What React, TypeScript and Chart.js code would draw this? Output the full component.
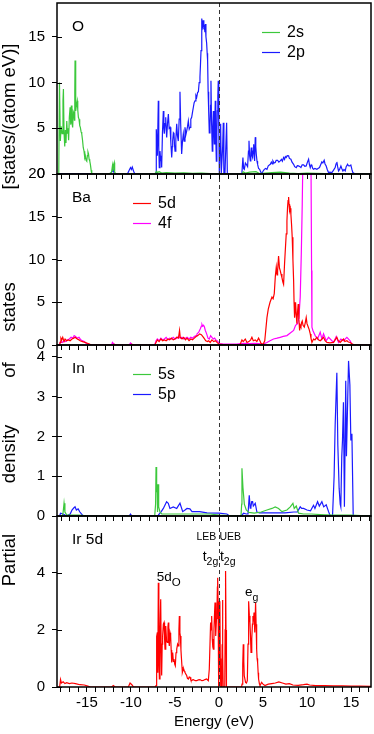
import React, { useEffect, useRef } from 'react';
import { Chart, registerables } from 'chart.js';

Chart.register(...registerables);

type Pt = [number, number];

const FONT = "'Liberation Sans', Arial, Helvetica, sans-serif";

// ---------- axes ----------
const energyRange: number[] = [-18.4, 17.27];
const energyTickStep = 1;
const energyLabelEvery = 5;
const energyTitle = 'Energy (eV)';

const panelIds: string[] = ['yO', 'yBa', 'yIn', 'yIr'];
const panelNames: string[] = ['O', 'Ba', 'In', 'Ir 5d'];
const panelMax: number[] = [18.7, 20, 4.3, 5.99];
const panelStep: number[] = [5, 5, 1, 2];

const yTitleWords: string[] = ['Partial', 'density', 'of', 'states', '[states/(atom eV)]'];

// ---------- series: [energy (eV), DOS] ----------
const oxygen2s: Pt[] = [
  [-18.4, 0], [-18.2, 0], [-18.12, 10.0], [-18.02, 3.6], [-17.93, 5.2], [-17.82, 4.4], [-17.72, 8.0], [-17.67, 9.3],
  [-17.6, 4.5], [-17.52, 3.0], [-17.45, 4.8], [-17.38, 3.4], [-17.29, 5.8], [-17.22, 4.4], [-17.15, 5.0], [-17.08, 3.7],
  [-17.0, 6.2], [-16.91, 7.3], [-16.84, 5.4], [-16.77, 7.5], [-16.7, 5.6], [-16.62, 5.1], [-16.55, 6.8], [-16.48, 6.6],
  [-16.42, 5.9], [-16.38, 9.0], [-16.35, 12.4], [-16.3, 8.0], [-16.25, 6.9], [-16.18, 7.6], [-16.1, 8.0], [-16.04, 7.0],
  [-15.97, 6.2], [-15.9, 6.0], [-15.82, 5.3], [-15.75, 5.1], [-15.66, 4.6], [-15.59, 4.4], [-15.5, 3.7], [-15.42, 2.9],
  [-15.33, 2.5], [-15.25, 1.8], [-15.18, 2.0], [-15.1, 1.5], [-15.02, 1.4], [-14.95, 2.0], [-14.88, 2.4], [-14.82, 2.2],
  [-14.75, 1.6], [-14.68, 1.43], [-14.6, 1.0], [-14.52, 0.4], [-14.45, 0], [-12.5, 0], [-12.2, 0.2], [-12.1, 0.9],
  [-12.05, 0.3], [-11.98, 1.0], [-11.9, 1.25], [-11.85, 0.2], [-11.7, 0], [-7.3, 0], [-7.1, 0.3], [-7.0, 0.15],
  [-6.8, 0.25], [-6.5, 0.1], [-6, 0.15], [-5, 0.1], [-4, 0.12], [-3, 0.08], [-2, 0.1], [-1, 0.05], [0, 0],
  [2.6, 0], [2.75, 0.25], [3.0, 0.1], [3.5, 0.2], [4.2, 0.25], [4.6, 0.05], [6, 0.15], [7, 0.2], [8, 0.1], [9, 0.05],
  [10, 0.1], [12, 0.05], [14, 0.05], [15.5, 0], [17.3, 0],
];

const oxygen2p: Pt[] = [
  [-18.4, 0], [-18, 0.05], [-16, 0.05], [-15, 0.05], [-14.5, 0], [-12.3, 0], [-12.15, 0.3], [-12.05, 0.6], [-11.95, 0.2],
  [-11.85, 0], [-10.4, 0], [-10.2, 0.4], [-10.05, 0.7], [-9.95, 0.5], [-9.85, 0.75], [-9.7, 0.3], [-9.55, 0], [-7.2, 0],
  [-7.15, 0], [-7.12, 4.9], [-7.0, 2.0], [-6.89, 8.0], [-6.84, 3.0], [-6.78, 0.7], [-6.7, 2.5], [-6.62, 1.4], [-6.56, 2.0],
  [-6.51, 0.7], [-6.42, 4.5], [-6.32, 6.9], [-6.26, 5.0], [-6.21, 4.4], [-6.13, 5.5], [-6.05, 6.2], [-5.99, 4.8], [-5.94, 4.0],
  [-5.85, 5.5], [-5.75, 6.56], [-5.66, 5.0], [-5.56, 5.1], [-5.47, 3.5], [-5.37, 1.8], [-5.3, 3.0], [-5.26, 3.6], [-5.18, 4.5],
  [-5.11, 4.4], [-5.05, 3.2], [-4.99, 2.5], [-4.9, 3.8], [-4.8, 5.5], [-4.72, 4.2], [-4.62, 3.6], [-4.52, 6.0], [-4.43, 9.0],
  [-4.35, 5.5], [-4.24, 2.2], [-4.15, 3.5], [-4.05, 4.4], [-3.96, 3.6], [-3.86, 5.1], [-3.76, 4.3], [-3.67, 4.7], [-3.57, 5.2],
  [-3.48, 5.8], [-3.38, 4.9], [-3.29, 5.1], [-3.2, 6.0], [-3.1, 6.2], [-3.0, 6.8], [-2.91, 7.3], [-2.82, 7.8], [-2.72, 8.0],
  [-2.62, 8.6], [-2.53, 8.4], [-2.43, 8.9], [-2.34, 9.0], [-2.25, 10.0], [-2.16, 10.6], [-2.1, 12.0], [-2.04, 13.5],
  [-1.98, 15.5], [-1.93, 17.0], [-1.86, 16.2], [-1.78, 16.8], [-1.72, 16.0], [-1.66, 16.1], [-1.6, 15.5], [-1.55, 16.4],
  [-1.48, 15.0], [-1.4, 14.3], [-1.34, 13.2], [-1.29, 12.4], [-1.23, 9.0], [-1.17, 6.9], [-1.1, 4.5], [-1.02, 5.1],
  [-0.96, 7.5], [-0.91, 10.2], [-0.85, 6.0], [-0.76, 2.5], [-0.7, 5.0], [-0.64, 6.9], [-0.58, 4.5], [-0.53, 3.3],
  [-0.47, 5.5], [-0.42, 8.0], [-0.36, 4.0], [-0.3, 1.4], [-0.24, 4.5], [-0.19, 6.9], [-0.13, 8.5], [-0.08, 10.2],
  [-0.02, 5.0], [0.04, 0], [0.12, 3.0], [0.19, 5.5], [0.26, 0], [0.34, 0], [0.42, 3.0], [0.49, 5.6], [0.56, 0],
  [0.68, 0], [0.78, 3.0], [0.87, 5.6], [0.95, 0], [2.55, 0],
  [2.61, 0.15], [2.72, 1.8], [2.8, 0.6], [2.88, 0.51], [3.0, 1.2], [3.1, 1.06], [3.25, 0.8], [3.35, 2.5], [3.41, 3.63],
  [3.48, 2.0], [3.56, 1.43], [3.62, 2.3], [3.67, 2.9], [3.75, 2.0], [3.82, 1.8], [3.88, 2.5], [3.94, 3.26], [4.0, 2.2],
  [4.05, 1.43], [4.12, 4.03], [4.18, 3.0], [4.24, 2.16], [4.32, 1.4], [4.39, 1.06], [4.5, 0.6], [4.62, 0.51], [4.75, 0.2],
  [4.88, 0.04], [5.0, 0.3], [5.15, 0.51], [5.3, 0.6], [5.45, 0.51], [5.6, 0.9], [5.83, 1.06], [5.95, 1.3], [6.05, 1.1],
  [6.13, 1.43], [6.25, 1.2], [6.39, 1.25], [6.5, 1.5], [6.66, 1.5], [6.8, 1.3], [6.96, 1.43], [7.1, 1.6], [7.2, 1.4],
  [7.34, 1.8], [7.45, 1.6], [7.54, 1.9], [7.64, 1.8], [7.75, 2.0], [7.91, 1.98], [8.0, 1.7], [8.17, 1.61], [8.3, 1.3],
  [8.48, 1.06], [8.6, 0.8], [8.78, 0.7], [8.9, 0.9], [9.04, 0.88], [9.2, 0.8], [9.31, 0.7], [9.45, 1.0], [9.61, 0.99],
  [9.75, 0.85], [9.91, 0.88], [10.05, 1.3], [10.18, 1.61], [10.28, 1.0], [10.37, 0.7], [10.47, 1.0], [10.56, 0.88],
  [10.65, 0.6], [10.74, 0.51], [10.9, 0.6], [11.12, 0.51], [11.25, 0.6], [11.42, 0.7], [11.55, 1.0], [11.69, 1.32],
  [11.8, 1.2], [11.95, 1.5], [12.05, 1.1], [12.18, 0.88], [12.3, 0.5], [12.45, 0.15], [12.6, 0.2], [12.83, 0.15],
  [13.0, 0.4], [13.2, 0.7], [13.3, 1.1], [13.39, 1.32], [13.48, 0.8], [13.58, 0.33], [13.7, 0.5], [13.85, 0.88],
  [13.95, 0.6], [14.08, 0.33], [14.2, 0.5], [14.34, 0.33], [14.45, 0.8], [14.61, 1.06], [14.7, 0.9], [14.84, 0.88],
  [14.98, 0.99], [15.1, 0.5], [15.21, 0.15], [15.47, 0], [17.3, 0],
];

const barium5d: Pt[] = [
  [-18.4, 0], [-18.1, 0], [-18.05, 0.3], [-17.95, 0.8], [-17.86, 0.6], [-17.75, 0.9], [-17.6, 0.4], [-17.48, 0.7],
  [-17.3, 0.5], [-17.1, 0.6], [-16.91, 0.5], [-16.7, 0.7], [-16.5, 0.8], [-16.35, 0.9], [-16.1, 0.7], [-15.9, 0.6],
  [-15.78, 0.5], [-15.5, 0.4], [-15.21, 0.3], [-14.95, 0.2], [-14.72, 0.1], [-14.5, 0], [-12, 0], [-11.9, 0.1],
  [-11.7, 0], [-10, 0], [-9.9, 0.1], [-9.7, 0], [-7.3, 0], [-7.15, 0.3], [-7.0, 0.6], [-6.8, 0.4], [-6.6, 0.7],
  [-6.4, 0.5], [-6.2, 0.6], [-6.0, 0.5], [-5.8, 0.7], [-5.6, 0.6], [-5.4, 0.8], [-5.2, 0.6], [-5.0, 0.7], [-4.8, 0.9],
  [-4.6, 0.8], [-4.48, 1.7], [-4.4, 0.9], [-4.2, 0.7], [-4.0, 0.9], [-3.8, 0.6], [-3.63, 0.8], [-3.4, 0.5], [-3.2, 0.7],
  [-3.0, 0.6], [-2.8, 0.8], [-2.6, 1.0], [-2.4, 1.1], [-2.2, 1.3], [-2.0, 1.2], [-1.85, 1.0], [-1.7, 0.8], [-1.5, 0.5],
  [-1.3, 0.4], [-1.17, 0.5], [-1.0, 0.3], [-0.8, 0.6], [-0.6, 0.4], [-0.4, 0.5], [-0.22, 0.3], [0, 0.1], [0.5, 0.05],
  [1.5, 0.05], [2.4, 0.05], [2.61, 0.6], [2.75, 0.4], [2.99, 0.7], [3.18, 0.3], [3.4, 0.4], [3.6, 0.6], [3.74, 0.9],
  [3.9, 0.5], [4.12, 0.6], [4.3, 0.4], [4.5, 0.8], [4.65, 0.5], [4.77, 0.2], [5.0, 0.05], [5.2, 0.5], [5.45, 3.2],
  [5.6, 4.2], [5.8, 5.0], [6.02, 5.6], [6.15, 5.4], [6.28, 6.0], [6.4, 8.0], [6.51, 9.1], [6.6, 8.2], [6.66, 8.7],
  [6.77, 10.4], [6.87, 9.0], [6.96, 8.7], [7.05, 8.3], [7.15, 7.9], [7.25, 7.4], [7.34, 7.1], [7.45, 9.5], [7.53, 11.0],
  [7.64, 13.0], [7.72, 14.5], [7.79, 16.1], [7.85, 16.9], [7.91, 17.3], [7.96, 16.5], [8.02, 15.7], [8.1, 16.0],
  [8.17, 15.3], [8.25, 14.0], [8.32, 12.6], [8.4, 10.0], [8.48, 7.5], [8.53, 5.0], [8.59, 3.2], [8.65, 4.0], [8.7, 5.0],
  [8.78, 3.5], [8.85, 2.5], [8.92, 3.8], [9.0, 4.8], [9.08, 3.0], [9.16, 1.7], [9.23, 2.3], [9.31, 2.1], [9.38, 2.6],
  [9.46, 2.8], [9.55, 2.3], [9.69, 2.1], [9.8, 2.6], [9.91, 3.2], [10.0, 2.5], [10.14, 2.1], [10.25, 1.8], [10.37, 1.3],
  [10.45, 0.8], [10.56, 0.3], [10.65, 0.5], [10.74, 0.7], [10.9, 0.6], [11.12, 0.9], [11.3, 0.6], [11.5, 0.5], [11.7, 0.7],
  [11.88, 0.9], [12.05, 0.5], [12.26, 0.3], [12.6, 0.25], [13.01, 0.3], [13.2, 0.6], [13.39, 0.9], [13.55, 0.5],
  [13.77, 0.3], [13.95, 0.5], [14.15, 0.7], [14.3, 0.4], [14.53, 0.5], [14.7, 0.35], [14.9, 0.3], [15.1, 0.15],
  [15.28, 0.05], [15.5, 0], [17.3, 0],
];

const barium4f: Pt[] = [
  [-18.4, 0], [-18.1, 0], [-18.0, 0.4], [-17.8, 0.3], [-17.6, 0.5], [-17.4, 0.4], [-17.2, 0.6], [-17.0, 0.7],
  [-16.8, 0.9], [-16.6, 0.8], [-16.45, 1.1], [-16.3, 1.0], [-16.1, 0.8], [-15.9, 0.9], [-15.7, 0.6], [-15.5, 0.5],
  [-15.3, 0.4], [-15.1, 0.2], [-14.8, 0.1], [-14.6, 0], [-12.2, 0], [-12.1, 0.3], [-12.0, 0.2], [-11.85, 0],
  [-10.2, 0], [-10.05, 0.25], [-9.9, 0.1], [-9.75, 0], [-7.3, 0], [-7.15, 0.5], [-7.0, 0.7], [-6.8, 0.5], [-6.6, 0.8],
  [-6.4, 0.6], [-6.2, 0.7], [-6.0, 0.9], [-5.8, 0.6], [-5.6, 0.8], [-5.4, 0.7], [-5.2, 0.9], [-5.0, 0.7], [-4.8, 0.8],
  [-4.6, 1.0], [-4.4, 0.8], [-4.2, 0.9], [-4.0, 0.7], [-3.8, 0.8], [-3.63, 0.9], [-3.4, 0.7], [-3.2, 0.9], [-3.0, 0.8],
  [-2.8, 1.0], [-2.6, 1.1], [-2.5, 1.3], [-2.3, 1.5], [-2.12, 1.9], [-2.0, 2.2], [-1.93, 2.4], [-1.85, 2.2], [-1.75, 2.3],
  [-1.65, 2.1], [-1.55, 1.7], [-1.4, 1.3], [-1.25, 0.8], [-1.1, 0.7], [-0.95, 1.1], [-0.8, 0.9], [-0.65, 0.7],
  [-0.5, 0.8], [-0.35, 0.6], [-0.22, 0.5], [-0.05, 0.3], [0.1, 0.15], [0.5, 0.1], [1.0, 0.1], [1.5, 0.1], [2.0, 0.1],
  [2.5, 0.15], [3.0, 0.2], [3.5, 0.15], [4.0, 0.2], [4.5, 0.15], [5.0, 0.1], [5.45, 0.3], [5.8, 0.5], [6.2, 0.7],
  [6.6, 0.8], [6.96, 0.9], [7.3, 1.0], [7.72, 1.1], [8.1, 1.4], [8.48, 1.7], [8.7, 2.3], [8.93, 2.5], [9.08, 3.2],
  [9.23, 5.6], [9.35, 10.6], [9.46, 16.5], [9.56, 24], [9.65, 30], [10.35, 30], [10.44, 24], [10.52, 8.7], [10.56, 2.1],
  [10.67, 1.7], [10.93, 1.1], [11.2, 0.7], [11.5, 1.5], [11.69, 0.7], [11.88, 1.3], [12.18, 0.5], [12.45, 0.9],
  [13.01, 0.3], [13.32, 1.0], [13.58, 0.3], [13.85, 0.7], [14.15, 0.5], [14.53, 0.9], [14.9, 0.5], [15.09, 0.1],
  [15.3, 0], [17.3, 0],
];

const indium5s: Pt[] = [
  [-18.4, 0], [-17.8, 0], [-17.7, 0.1], [-17.6, 0.32], [-17.5, 0.1], [-17.3, 0.03], [-16, 0.02], [-14.5, 0],
  [-7.3, 0], [-7.2, 0.3], [-7.15, 1.23], [-7.08, 0.6], [-7.03, 0.8], [-6.98, 0.1], [-6.92, 0.8], [-6.85, 0.23],
  [-6.7, 0.1], [-6.5, 0.05], [-5, 0.05], [-3, 0.05], [-1, 0.05], [0, 0.02], [2.5, 0], [2.58, 0.3], [2.61, 1.2],
  [2.72, 0.73], [2.88, 0.3], [3.1, 0.15], [3.4, 0.09], [4, 0.07], [4.8, 0.1], [5.45, 0.15], [6.02, 0.19], [6.39, 0.23],
  [6.77, 0.19], [7.15, 0.11], [7.72, 0.15], [8.1, 0.23], [8.4, 0.32], [8.55, 0.19], [8.78, 0.25], [9.04, 0.07],
  [9.6, 0.05], [10.5, 0.05], [12, 0.03], [13, 0.02], [15, 0.02], [17.3, 0],
];

const indium5p: Pt[] = [
  [-18.4, 0], [-18.1, 0], [-18.0, 0.07], [-17.7, 0.05], [-17.3, 0], [-16.9, 0.05], [-16.7, 0.15], [-16.5, 0.2],
  [-16.35, 0.23], [-16.2, 0.15], [-16.0, 0.18], [-15.8, 0.1], [-15.5, 0.02], [-15.3, 0], [-10.2, 0], [-10.05, 0.05],
  [-9.9, 0], [-7.2, 0], [-6.9, 0.02], [-6.6, 0.1], [-6.32, 0.19], [-5.95, 0.36], [-5.76, 0.32], [-5.57, 0.19],
  [-5.19, 0.23], [-4.8, 0.19], [-4.43, 0.32], [-4.12, 0.11], [-3.86, 0.15], [-3.63, 0.19], [-3.3, 0.18], [-3.06, 0.11],
  [-2.2, 0.11], [-1.36, 0.08], [0, 0.07], [0.9, 0.05], [1.2, 0], [2.5, 0], [2.8, 0.07], [3.1, 0.05], [3.3, 0.05],
  [3.44, 0.52], [3.55, 0.2], [3.63, 0.23], [3.72, 0.36], [3.82, 0.36], [3.9, 0.25], [4.0, 0.28], [4.12, 0.32],
  [4.31, 0.1], [4.6, 0.08], [5.5, 0.08], [6.5, 0.08], [7.5, 0.08], [8.5, 0.1], [8.9, 0.1], [9.23, 0.23], [9.4, 0.19],
  [9.61, 0.19], [10.0, 0.15], [10.4, 0.13], [10.74, 0.27], [10.9, 0.19], [11.2, 0.36], [11.4, 0.25], [11.69, 0.36],
  [11.9, 0.23], [12.18, 0.28], [12.45, 0.11], [12.64, 0], [12.9, 0], [13.08, 1.0], [13.2, 2.3], [13.39, 3.6],
  [13.5, 1.8], [13.65, 0.7], [13.77, 0.3], [13.84, 0.23], [13.95, 1.5], [14.03, 1.9], [14.14, 2.86], [14.25, 0.23],
  [14.4, 3.4], [14.48, 1.5], [14.63, 3.0], [14.72, 3.9], [14.87, 3.3], [14.98, 1.9], [15.1, 2.07], [15.25, 0], [17.3, 0],
];

const iridium5d: Pt[] = [
  [-18.4, 0], [-18.1, 0], [-18.0, 0.26], [-17.9, 0.14], [-17.7, 0.18], [-17.5, 0.12], [-17.3, 0.15], [-17.0, 0.12],
  [-16.7, 0.14], [-16.3, 0.12], [-15.8, 0.08], [-15.3, 0.07], [-14.9, 0.03], [-14.6, 0], [-12.2, 0], [-12.0, 0.05],
  [-11.8, 0], [-10.3, 0], [-10.1, 0.14], [-9.9, 0.08], [-9.7, 0], [-7.2, 0], [-7.15, 0.05], [-7.08, 1.77], [-7.0, 1.91],
  [-6.95, 0.5], [-6.89, 3.65], [-6.83, 1.0], [-6.77, 0.28], [-6.7, 2.0], [-6.62, 3.07], [-6.56, 1.2], [-6.51, 0.4],
  [-6.45, 1.5], [-6.4, 1.79], [-6.32, 2.2], [-6.24, 2.26], [-6.18, 1.7], [-6.13, 1.33], [-6.07, 2.0], [-6.02, 2.14],
  [-5.95, 1.6], [-5.86, 1.56], [-5.8, 2.1], [-5.75, 2.26], [-5.7, 1.6], [-5.64, 1.44], [-5.56, 1.9], [-5.49, 1.79],
  [-5.43, 1.3], [-5.37, 0.86], [-5.3, 1.1], [-5.26, 1.21], [-5.18, 0.9], [-5.11, 0.98], [-5.03, 0.8], [-4.96, 0.74],
  [-4.88, 1.2], [-4.8, 1.33], [-4.7, 1.5], [-4.62, 1.44], [-4.55, 2.0], [-4.5, 2.49], [-4.44, 1.9], [-4.39, 1.79],
  [-4.32, 1.3], [-4.28, 1.09], [-4.2, 0.7], [-4.16, 0.51], [-4.08, 0.6], [-4.01, 0.63], [-3.93, 0.55], [-3.86, 0.51],
  [-3.76, 0.45], [-3.67, 0.4], [-3.58, 0.3], [-3.48, 0.28], [-3.38, 0.35], [-3.29, 0.34], [-3.2, 0.25], [-3.1, 0.22],
  [-3.0, 0.25], [-2.91, 0.26], [-2.7, 0.22], [-2.53, 0.22], [-2.35, 0.25], [-2.16, 0.26], [-1.95, 0.22], [-1.78, 0.23],
  [-1.6, 0.26], [-1.4, 0.28], [-1.21, 0.22], [-1.1, 0.63], [-0.95, 2.26], [-0.89, 2.0], [-0.83, 2.49], [-0.76, 1.68],
  [-0.7, 1.4], [-0.64, 1.33], [-0.57, 2.02], [-0.5, 2.6], [-0.45, 2.96], [-0.4, 2.0], [-0.34, 1.79], [-0.28, 2.4],
  [-0.23, 2.61], [-0.18, 3.5], [-0.15, 3.83], [-0.1, 3.0], [-0.08, 2.49], [-0.03, 1.0], [0.0, 0], [0.05, 1.5],
  [0.1, 3.0], [0.15, 1.0], [0.2, 0], [0.32, 0], [0.36, 1.5], [0.4, 3.05], [0.44, 1.2], [0.48, 0], [0.66, 0],
  [0.7, 2.0], [0.75, 4.06], [0.8, 2.0], [0.85, 0], [2.57, 0], [2.62, 0.1], [2.68, 0.16], [2.72, 0.8], [2.76, 1.5],
  [2.82, 0.9], [2.87, 0.4], [3.02, 0.16], [3.12, 0.14], [3.22, 0.22], [3.3, 1.5], [3.37, 3.0], [3.45, 2.5], [3.52, 2.26],
  [3.58, 1.8], [3.64, 1.21], [3.7, 1.4], [3.75, 1.68], [3.8, 2.2], [3.86, 2.49], [3.92, 2.3], [3.98, 2.61], [4.04, 2.0],
  [4.09, 1.91], [4.16, 2.96], [4.22, 2.2], [4.28, 1.33], [4.33, 1.0], [4.39, 0.86], [4.45, 0.5], [4.5, 0.28], [4.6, 0.1],
  [4.66, 0.05], [4.84, 0.16], [5.0, 0.1], [5.22, 0.05], [5.6, 0.1], [6.0, 0.12], [6.4, 0.14], [6.8, 0.18], [7.2, 0.14],
  [7.6, 0.1], [8.0, 0.12], [8.4, 0.07], [9.0, 0.06], [9.6, 0.08], [10.0, 0.1], [10.3, 0.07], [11, 0.05], [12, 0.05],
  [13, 0.04], [14, 0.04], [15, 0.03], [16, 0.03], [17.3, 0.02],
];

const seriesData: Pt[][] = [oxygen2s, oxygen2p, barium5d, barium4f, indium5s, indium5p, iridium5d];
const seriesLabels: string[] = ['2s', '2p', '5d', '4f', '5s', '5p', 'Ir 5d'];
const seriesPanel: number[] = [0, 0, 1, 1, 2, 2, 3];
const seriesInLegend: boolean[] = [true, true, true, true, true, true, false];
const seriesColors: string[] = ['#3cc83c', '#1a1aff', '#ff0000', '#ff00ff', '#3cc83c', '#1a1aff', '#ff0000'];

// ---------- decoration plugin ----------
function drawSub(ctx: CanvasRenderingContext2D, main: string, sub: string, x: number, y: number,
  mainPx: number, subPx: number, drop: number) {
  ctx.font = `${mainPx}px ${FONT}`;
  ctx.textAlign = 'left';
  ctx.textBaseline = 'alphabetic';
  ctx.fillText(main, x, y);
  const w = ctx.measureText(main).width;
  ctx.font = `${subPx}px ${FONT}`;
  ctx.fillText(sub, x + w, y + drop);
}

const decorPlugin = {
  id: 'decor',
  afterDraw(chart: any) {
    const ctx: CanvasRenderingContext2D = chart.ctx;
    const a = chart.chartArea;
    const xs = chart.scales.x;
    ctx.save();

    // dashed Fermi level
    ctx.strokeStyle = '#333';
    ctx.lineWidth = 1;
    ctx.setLineDash([4, 3]);
    const x0 = Math.round(xs.getPixelForValue(0)) + 0.5;
    ctx.beginPath();
    ctx.moveTo(x0, a.top);
    ctx.lineTo(x0, a.bottom);
    ctx.stroke();
    ctx.setLineDash([]);

    // frames and ticks
    ctx.strokeStyle = '#000';
    panelIds.forEach((id, i) => {
      const s = chart.scales[id];
      ctx.strokeStyle = '#000';
      ctx.lineWidth = 1;
      ctx.beginPath();
      s.ticks.forEach((t: any) => {
        const y = Math.round(s.getPixelForValue(t.value)) + 0.5;
        ctx.moveTo(a.left, y);
        ctx.lineTo(a.left + 5, y);
      });
      if (i < panelIds.length - 1) {
        xs.ticks.forEach((t: any) => {
          const x = Math.round(xs.getPixelForValue(t.value)) + 0.5;
          ctx.moveTo(x, s.bottom);
          ctx.lineTo(x, s.bottom + 5);
        });
      }
      ctx.stroke();
      ctx.lineWidth = 1.5;
      ctx.strokeRect(a.left, s.top, a.right - a.left, s.bottom - s.top);

      // panel name
      ctx.fillStyle = '#000';
      ctx.font = `15.5px ${FONT}`;
      ctx.textAlign = 'left';
      ctx.textBaseline = 'middle';
      ctx.fillText(panelNames[i], 72, s.top + 23.5);

      // legend
      const legendX = i === 0 ? 262 : 133;
      let row = 0;
      seriesData.forEach((_, k) => {
        if (seriesPanel[k] !== i || !seriesInLegend[k]) return;
        const y = Math.round(s.top + 29 + row * 19.5) + 0.5;
        ctx.strokeStyle = seriesColors[k];
        ctx.lineWidth = 1.2;
        ctx.beginPath();
        ctx.moveTo(legendX, y);
        ctx.lineTo(legendX + 18, y);
        ctx.stroke();
        ctx.fillStyle = '#000';
        ctx.font = `16px ${FONT}`;
        ctx.textAlign = 'left';
        ctx.textBaseline = 'middle';
        ctx.fillText(seriesLabels[k], legendX + 25, y);
        row++;
      });
    });

    // Ir 5d annotations
    const ir = chart.scales.yIr;
    const T = ir.top;
    ctx.fillStyle = '#000';
    ctx.font = `10.5px ${FONT}`;
    ctx.textBaseline = 'alphabetic';
    ctx.textAlign = 'right';
    ctx.fillText('LEB', xs.getPixelForValue(-0.3), T + 24);
    ctx.textAlign = 'left';
    ctx.fillText('UEB', xs.getPixelForValue(0.06), T + 24);
    drawSub(ctx, 't', '2g', xs.getPixelForValue(-1.85), T + 45, 14, 10.5, 4);
    drawSub(ctx, 't', '2g', xs.getPixelForValue(0.11), T + 45, 14, 10.5, 4);
    drawSub(ctx, '5d', 'O', xs.getPixelForValue(-7.07), T + 65, 13.5, 11.5, 5);
    drawSub(ctx, 'e', 'g', xs.getPixelForValue(2.95), T + 80, 13.5, 10.5, 4.5);

    // y title words
    const titleCenters = [560, 454, 370, 307, 116.5];
    ctx.font = `18.5px ${FONT}`;
    ctx.textAlign = 'center';
    ctx.textBaseline = 'alphabetic';
    yTitleWords.forEach((w, i) => {
      ctx.save();
      ctx.translate(14.5, titleCenters[i]);
      ctx.rotate(-Math.PI / 2);
      ctx.fillText(w, 0, 0);
      ctx.restore();
    });

    ctx.restore();
  },
};

function zeroPadding(scale: any) {
  scale.paddingTop = 0;
  scale.paddingBottom = 0;
  scale.paddingLeft = 0;
  scale.paddingRight = 0;
}

export default function App() {
  const ref = useRef<HTMLCanvasElement>(null);

  useEffect(() => {
    const canvas = ref.current;
    if (!canvas) return;
    Chart.defaults.font.family = FONT;
    Chart.defaults.color = '#000';

    const datasets = seriesData.map((pts, i) => ({
      label: seriesLabels[i],
      data: pts.map(([x, y]) => ({ x, y })),
      borderColor: seriesColors[i],
      backgroundColor: seriesColors[i],
      borderWidth: 1.2,
      pointRadius: 0,
      pointHoverRadius: 0,
      tension: 0,
      fill: false,
      xAxisID: 'x',
      yAxisID: panelIds[seriesPanel[i]],
    }));

    const scales: any = {
      x: {
        type: 'linear',
        position: 'bottom',
        min: energyRange[0],
        max: energyRange[1],
        afterFit: (s: any) => { s.height = 47; zeroPadding(s); },
        grid: { display: true, drawOnChartArea: false, drawTicks: true, tickLength: 5, color: '#000', lineWidth: 1 },
        border: { display: false },
        ticks: {
          stepSize: energyTickStep,
          includeBounds: false,
          autoSkip: false,
          maxRotation: 0,
          padding: 2,
          font: { size: 15, family: FONT },
          color: '#000',
          callback: (v: any) => (Math.abs(Number(v) % energyLabelEvery) < 1e-9 ? String(v) : ''),
        },
        title: { display: true, text: energyTitle, font: { size: 15, family: FONT }, color: '#000', padding: { top: 0, bottom: 3 } },
      },
    };
    for (let i = panelIds.length - 1; i >= 0; i--) {
      scales[panelIds[i]] = {
        type: 'linear',
        position: 'left',
        stack: 'pdos',
        stackWeight: 1,
        offset: false,
        min: 0,
        max: panelMax[i],
        afterFit: (s: any) => { s.width = 57; zeroPadding(s); },
        grid: { display: true, drawOnChartArea: false, drawTicks: true, tickLength: 5, color: '#000', lineWidth: 1 },
        border: { display: false },
        ticks: {
          stepSize: panelStep[i],
          includeBounds: false,
          autoSkip: false,
          padding: 7,
          font: { size: 15, family: FONT },
          color: '#000',
        },
      };
    }

    const chart = new Chart(canvas, {
      type: 'line',
      data: { datasets } as any,
      options: {
        responsive: false,
        maintainAspectRatio: false,
        animation: false,
        events: [],
        layout: { padding: { left: 0, right: 3, top: 3, bottom: 0 } },
        plugins: { legend: { display: false }, tooltip: { enabled: false }, title: { display: false } },
        scales,
      } as any,
      plugins: [decorPlugin],
    });
    return () => chart.destroy();
  }, []);

  return (
    <div style={{ position: 'fixed', left: 0, top: 0, width: 374, height: 734, background: '#fff' }}>
      <canvas ref={ref} width={374} height={734} style={{ display: 'block', width: 374, height: 734 }} />
    </div>
  );
}
